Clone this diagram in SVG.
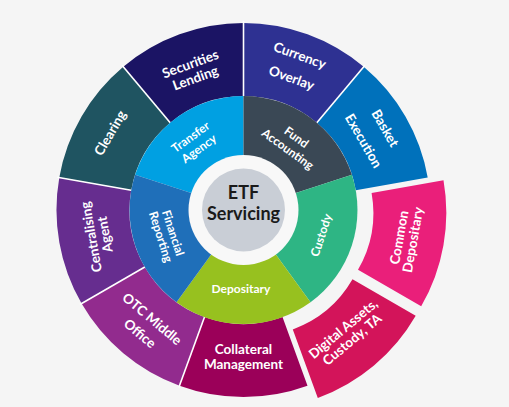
<svg xmlns="http://www.w3.org/2000/svg" width="509" height="407" viewBox="0 0 509 407">
<style>
text{font-family:Lato,"Noto Sans","Liberation Sans",sans-serif;font-weight:700;fill:#ffffff;text-anchor:middle}
.o{font-size:13.5px}
.i{font-size:12px}
.c{font-size:18px;fill:#1a1a1a}
.sep{stroke:#ffffff;stroke-width:1.6;fill:none}
</style>
<rect x="0" y="0" width="509" height="407" fill="#f5f5f5"/>

<g id="securities-lending">
<path d="M 123.3 66.8 A 187 187 0 0 1 243.5 23 L 243.5 96 A 114 114 0 0 0 170.2 122.7 Z" fill="#1b1464"/>
<text class="o" transform="rotate(-20 243.5 210)"><tspan x="243.5" y="59.2">Securities</tspan><tspan x="243.5" y="74.2">Lending</tspan></text>
</g>
<g id="currency-overlay">
<path d="M 243.5 23 A 187 187 0 0 1 363.7 66.8 L 316.8 122.7 A 114 114 0 0 0 243.5 96 Z" fill="#2e3192"/>
<text class="o" transform="rotate(20 243.5 210)"><tspan x="243.5" y="50.2">Currency</tspan><tspan x="243.5" y="74.2">Overlay</tspan></text>
</g>
<g id="basket-execution">
<path d="M 363.7 66.8 A 187 187 0 0 1 427.7 177.5 L 355.8 190.2 A 114 114 0 0 0 316.8 122.7 Z" fill="#0071bb"/>
<text class="o" transform="rotate(60 243.5 210)"><tspan x="243.5" y="51.2">Basket</tspan><tspan x="243.5" y="76.2">Execution</tspan></text>
</g>
<g id="common-depositary" transform="translate(15.8 2.8)">
<path d="M 427.7 177.5 A 187 187 0 0 1 405.4 303.5 L 342.2 267 A 114 114 0 0 0 355.8 190.2 Z" fill="#ea1f7a"/>
<text class="o" transform="rotate(-80 243.5 210)"><tspan x="243.5" y="356.7">Common</tspan><tspan x="243.5" y="370.7">Depositary</tspan></text>
</g>
<g id="digital-assets" transform="translate(10.3 12.3)">
<path d="M 405.4 303.5 A 187 187 0 0 1 307.5 385.7 L 282.5 317.1 A 114 114 0 0 0 342.2 267 Z" fill="#d3145a"/>
<text class="o" transform="rotate(-40 243.5 210)"><tspan x="243.5" y="353.7">Digital Assets,</tspan><tspan x="243.5" y="367.7">Custody, TA</tspan></text>
</g>
<g id="collateral-management">
<path d="M 307.5 385.7 A 187 187 0 0 1 179.5 385.7 L 204.5 317.1 A 114 114 0 0 0 282.5 317.1 Z" fill="#9b0059"/>
<text class="o"><tspan x="243.5" y="354.1">Collateral</tspan><tspan x="243.5" y="368.8">Management</tspan></text>
</g>
<g id="otc-middle-office">
<path d="M 179.5 385.7 A 187 187 0 0 1 81.6 303.5 L 144.8 267 A 114 114 0 0 0 204.5 317.1 Z" fill="#922b8e"/>
<text class="o" transform="rotate(40 243.5 210)"><tspan x="243.5" y="356.9">OTC Middle</tspan><tspan x="243.5" y="375.9">Office</tspan></text>
</g>
<g id="centralising-agent">
<path d="M 81.6 303.5 A 187 187 0 0 1 59.3 177.5 L 131.2 190.2 A 114 114 0 0 0 144.8 267 Z" fill="#662d8f"/>
<text class="o" transform="rotate(-100 243.5 210)"><tspan x="243.5" y="60">Centralising</tspan><tspan x="243.5" y="74">Agent</tspan></text>
</g>
<g id="clearing">
<path d="M 59.3 177.5 A 187 187 0 0 1 123.3 66.8 L 170.2 122.7 A 114 114 0 0 0 131.2 190.2 Z" fill="#1f5461"/>
<text class="o" transform="rotate(-60 243.5 210)" x="243.5" y="60.7">Clearing</text>
</g>

<g id="separators">
<line class="sep" x1="243.5" y1="96" x2="243.5" y2="21"/>
<line class="sep" x1="316.8" y1="122.7" x2="365" y2="65.3"/>
<line class="sep" x1="204.5" y1="317.1" x2="178.8" y2="387.6"/>
<line class="sep" x1="144.8" y1="267" x2="79.9" y2="304.5"/>
<line class="sep" x1="131.2" y1="190.2" x2="57.3" y2="177.2"/>
<line class="sep" x1="170.2" y1="122.7" x2="122" y2="65.3"/>
</g>

<g id="transfer-agency">
<path d="M 243.5 210 L 135.1 174.8 A 114 114 0 0 1 243.5 96 Z" fill="#00a0e2"/>
<text class="i" transform="rotate(-36 243.5 210)"><tspan x="243.5" y="124">Transfer</tspan><tspan x="243.5" y="138.3">Agency</tspan></text>
</g>
<g id="fund-accounting">
<path d="M 243.5 210 L 243.5 96 A 114 114 0 0 1 351.9 174.8 Z" fill="#3a4855"/>
<text class="i" transform="rotate(36 243.5 210)"><tspan x="243.5" y="124.2">Fund</tspan><tspan x="243.5" y="138.9">Accounting</tspan></text>
</g>
<g id="custody">
<path d="M 243.5 210 L 351.9 174.8 A 114 114 0 0 1 310.5 302.2 Z" fill="#2eb584"/>
<text class="i" transform="rotate(-72 243.5 210)" x="243.5" y="295.8">Custody</text>
</g>
<g id="depositary">
<path d="M 243.5 210 L 310.5 302.2 A 114 114 0 0 1 176.5 302.2 Z" fill="#97c11f"/>
<text class="i" x="241" y="292.5">Depositary</text>
</g>
<g id="financial-reporting">
<path d="M 243.5 210 L 176.5 302.2 A 114 114 0 0 1 135.1 174.8 Z" fill="#1f6fb9"/>
<text class="i" transform="rotate(72 243.5 210)"><tspan x="243.5" y="288.2">Financial</tspan><tspan x="243.5" y="301.2">Reporting</tspan></text>
</g>

<g id="etf-servicing">
<circle cx="243.5" cy="210" r="55" fill="#f8f8f8"/>
<circle cx="243.5" cy="210" r="41.5" fill="#c9ced6"/>
<text class="c"><tspan x="243.5" y="198.5">ETF</tspan><tspan x="243.5" y="219.5">Servicing</tspan></text>
</g>
</svg>
